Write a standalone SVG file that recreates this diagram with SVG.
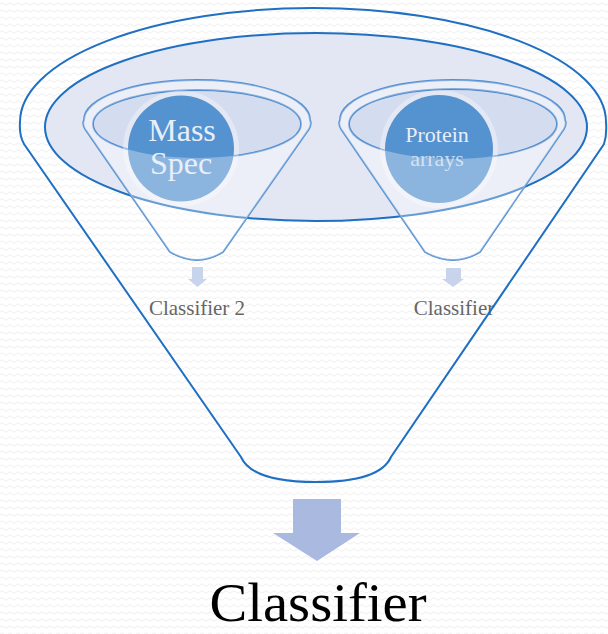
<svg xmlns="http://www.w3.org/2000/svg" width="608" height="634" viewBox="0 0 608 634">
  <defs>
    <pattern id="bgwave" width="8" height="7" patternUnits="userSpaceOnUse">
      <path d="M0,4 Q2,1.5 4,4 T8,4" fill="none" stroke="#efefef" stroke-width="1"/>
    </pattern>
    <style>
      .big { fill: none; stroke: #1f6fc2; stroke-width: 2; }
      .rim { fill: #e3e7f3; stroke: #1f6fc2; stroke-width: 2; }
      .sf { fill: none; stroke: #5590d2; stroke-width: 1.8; }
      .sfin { fill: #d0d9ed; fill-opacity: 0.8; stroke: #4a88cd; stroke-width: 1.8; }
      .halo { fill: #ffffff; fill-opacity: 0.35; }
      .ball { fill: #5592d0; }
      .front { fill: #ffffff; fill-opacity: 0.32; fill-rule: evenodd; }
      .btxt { fill: #e9eff9; font-family: "Liberation Serif", "DejaVu Serif", serif; text-anchor: middle; }
      .lbl { fill: #666666; font-family: "Liberation Serif", "DejaVu Serif", serif; font-size: 21px; text-anchor: middle; }
      .sarrow { fill: #c8d3ec; }
      .barrow { fill: #aab9df; }
    </style>
  </defs>
  <rect width="608" height="634" fill="#ffffff"/>
  <rect width="608" height="634" fill="url(#bgwave)"/>

  <g id="big-funnel-rim">
    <ellipse class="rim" cx="316" cy="127" rx="271" ry="94"/>
  </g>

  <g id="funnel-mass-spec">
    <path class="sf" d="M85,129 Q82,124 84,120 A113,40 0 0 1 310,120 Q312,124 309,129 L223,252 Q210,260 197,260 Q184,260 170,252 Z"/>
    <ellipse class="sfin" cx="197" cy="124" rx="104" ry="34"/>
    <circle class="halo" cx="181" cy="148.5" r="58"/>
    <circle class="ball" cx="181" cy="148.5" r="53"/>
    <path class="front" d="M85,129 Q82,124 84,120 A113,40 0 0 1 310,120 Q312,124 309,129 L223,252 Q210,260 197,260 Q184,260 170,252 Z M93,124 A104,34 0 1 0 301,124 A104,34 0 1 0 93,124 Z"/>
    <text class="btxt" x="182" y="141" font-size="32">Mass</text>
    <text class="btxt" x="181" y="174" font-size="32">Spec</text>
  </g>

  <g id="funnel-protein-arrays">
    <path class="sf" d="M341,129 Q338,124 340,120 A112.5,40 0 0 1 565,120 Q567,124 564,129 L480,252 Q467,260 453,260 Q439,260 425,252 Z"/>
    <ellipse class="sfin" cx="453" cy="124" rx="104" ry="35"/>
    <circle class="halo" cx="439" cy="149" r="59"/>
    <circle class="ball" cx="439" cy="149" r="54"/>
    <path class="front" d="M341,129 Q338,124 340,120 A112.5,40 0 0 1 565,120 Q567,124 564,129 L480,252 Q467,260 453,260 Q439,260 425,252 Z M349,124 A104,35 0 1 0 557,124 A104,35 0 1 0 349,124 Z"/>
    <text class="btxt" x="437" y="142" font-size="22">Protein</text>
    <text class="btxt" x="437" y="166" font-size="22" fill-opacity="0.8">arrays</text>
  </g>

  <g id="classifier-2">
    <path class="sarrow" d="M192,267 L203,267 L203,279 L207,279 L197.5,287 L188,279 L192,279 Z"/>
    <text class="lbl" x="197" y="315">Classifier 2</text>
  </g>

  <g id="classifier-right">
    <path class="sarrow" d="M446,268 L461,268 L461,279 L464,279 L453,287 L442,279 L446,279 Z"/>
    <text class="lbl" x="454" y="315">Classifier</text>
  </g>

  <g id="big-funnel">
    <path class="big" d="M241,457 L24,144 Q19,135 20,122 A293,114 0 0 1 606,122 Q607,135 604,144 L391,457 Q380,482 316,482 Q252,482 241,457 Z"/>
  </g>

  <g id="connectors">
    <path class="barrow" d="M293,499 L341,499 L341,533 L360,533 L317,561 L273,533 L293,533 Z"/>
  </g>

  <g id="classifier-final">
    <text x="318" y="621" font-family="Liberation Serif, DejaVu Serif, serif" font-size="54" fill="#000000" text-anchor="middle" textLength="217" lengthAdjust="spacingAndGlyphs">Classifier</text>
  </g>
</svg>
